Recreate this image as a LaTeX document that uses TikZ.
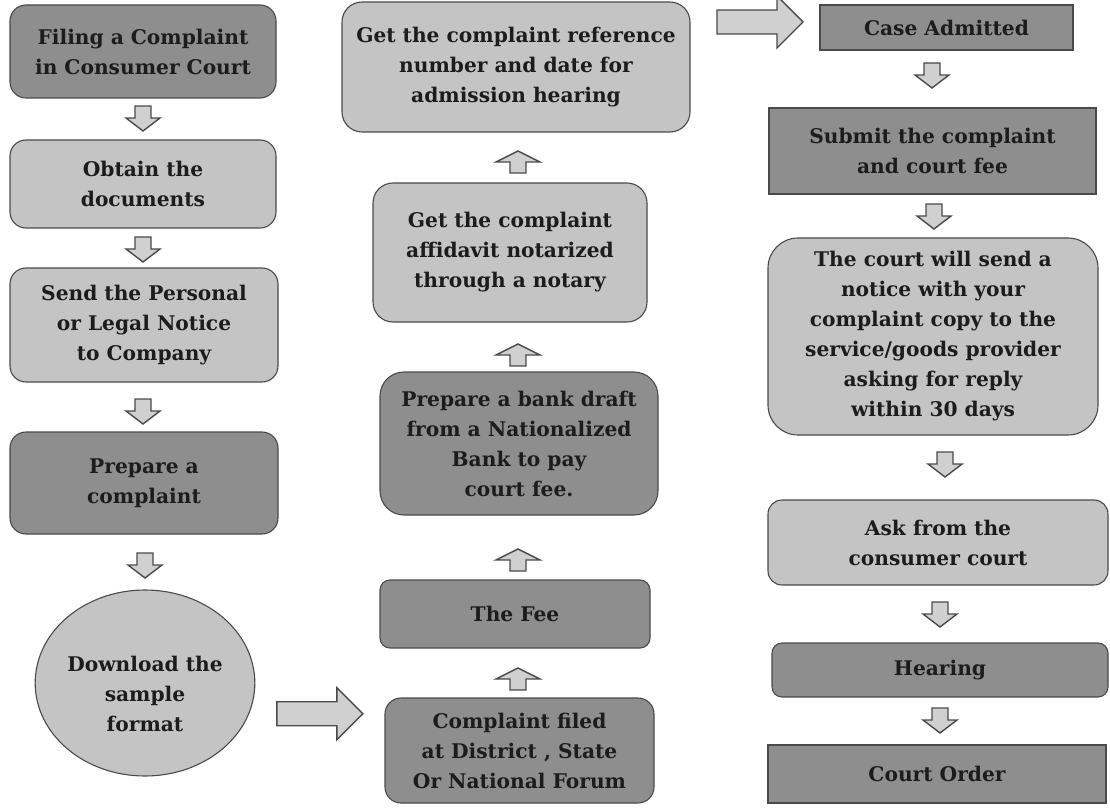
\documentclass[tikz,border=0pt]{standalone}
\usepackage{fontspec}
\setmainfont{DejaVu Serif}
\usetikzlibrary{shapes.geometric,calc}
\definecolor{darkfill}{HTML}{8E8E8E}
\definecolor{lightfill}{HTML}{C4C4C4}
\definecolor{edge}{HTML}{4A4A4A}
\definecolor{arrowfill}{HTML}{D0D0D0}
\definecolor{txt}{HTML}{1C1C1C}
\tikzset{
  box/.style={draw=edge, line width=1.1pt, inner sep=0pt, align=center, text=txt,
    font=\fontsize{20.2}{30}\selectfont\bfseries},
  darkbox/.style={box, fill=darkfill},
  lightbox/.style={box, fill=lightfill},
  rbox/.style={rounded corners=16pt},
  blk/.style={draw=edge, fill=arrowfill, line width=1.4pt, line join=miter},
  pics/downarr/.style={code={\draw[blk] (-8,-12) -- (8,-12) -- (8,0) -- (17,0) -- (0,13) -- (-17,0) -- (-8,0) -- cycle;}},
  pics/uparr/.style={code={\draw[blk] (-8,11) -- (8,11) -- (8,0) -- (22,0) -- (0,-11) -- (-22,0) -- (-8,0) -- cycle;}},
  pics/rightarr/.style={code={\draw[blk] (-43,-12) -- (17,-12) -- (17,-26) -- (43,0) -- (17,26) -- (17,12) -- (-43,12) -- cycle;}},
}
\begin{document}
\begin{tikzpicture}[x=1pt,y=-1pt]
\useasboundingbox (0,0) rectangle (1110,810);

% left column
\node[darkbox, rbox, minimum width=266, minimum height=93] (n1) at (143,51.5) {Filing a Complaint\\in Consumer Court};
\node[lightbox, rbox, minimum width=266, minimum height=88] (n2) at (143,184) {Obtain the\\documents};
\node[lightbox, rbox, minimum width=268, minimum height=114] (n3) at (144,325) {Send the Personal\\or Legal Notice\\to Company};
\node[darkbox, rbox, minimum width=268, minimum height=102] (n4) at (144,483) {Prepare a\\complaint};
\node[lightbox, ellipse, inner sep=0pt, minimum width=215, minimum height=186] (n5) at (145,683) {\rule{0pt}{37pt}Download the\\sample\\format};

% middle column
\node[darkbox, rbox, minimum width=269, minimum height=105] (n6) at (519.5,750.5) {Complaint filed\\at District , State\\Or National Forum};
\node[darkbox, rounded corners=10pt, minimum width=270, minimum height=68] (n7) at (515,614) {The Fee};
\node[darkbox, rounded corners=24pt, minimum width=278, minimum height=143] (n8) at (519,443.5) {Prepare a bank draft\\from a Nationalized\\Bank to pay\\court fee.};
\node[lightbox, rounded corners=20pt, minimum width=274, minimum height=139] (n9) at (510,252.5) {Get the complaint\\affidavit notarized\\through a notary};
\node[lightbox, rounded corners=20pt, minimum width=348, minimum height=130] (n10) at (516,67) {Get the complaint reference\\number and date for\\admission hearing};

% right column
\node[darkbox, minimum width=253, minimum height=45] (n11) at (946.5,27.5) {Case Admitted};
\node[darkbox, minimum width=327, minimum height=86] (n12) at (932.5,151) {Submit the complaint\\and court fee};
\node[lightbox, rounded corners=30pt, minimum width=330, minimum height=197] (n13) at (933,336.5) {The court will send a\\notice with your\\complaint copy to the\\service/goods provider\\asking for reply\\within 30 days};
\node[lightbox, rounded corners=14pt, minimum width=340, minimum height=85] (n14) at (938,542.5) {Ask from the\\consumer court};
\node[darkbox, rounded corners=10pt, minimum width=336, minimum height=54] (n15) at (940,670) {Hearing};
\node[darkbox, minimum width=338, minimum height=58] (n16) at (937,774) {Court Order};

% block arrows
\pic (a12) at (143,118) {downarr};
\pic (a23) at (143,249) {downarr};
\pic (a34) at (143,411) {downarr};
\pic (a45) at (145,565) {downarr};
\pic (a56) at ($(n5.east)!0.5!(n6.west) + (0,-3)$) {rightarr};
\pic (a67) at (518,679) {uparr};
\pic (a78) at (518,560) {uparr};
\pic (a89) at (518,355) {uparr};
\pic (a910) at (518,162) {uparr};
\pic (a1011) at (760,22) {rightarr};
\pic (a1112) at (932,75) {downarr};
\pic (a1213) at (934,216) {downarr};
\pic (a1314) at (945,464) {downarr};
\pic (a1415) at (940,614) {downarr};
\pic (a1516) at (940,720) {downarr};
\end{tikzpicture}
\end{document}
